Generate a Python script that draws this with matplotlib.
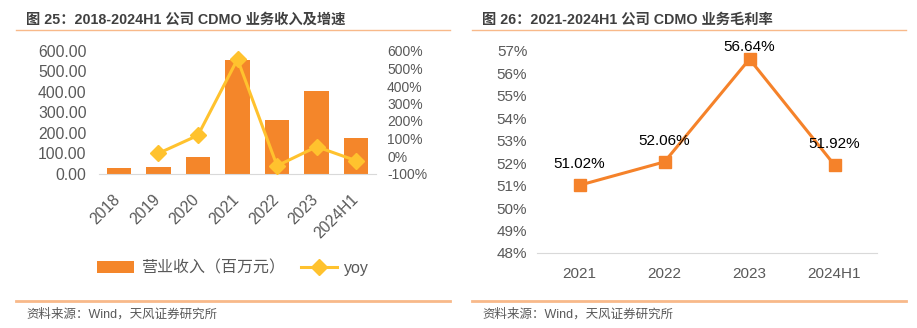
import matplotlib
matplotlib.use("Agg")
import matplotlib.pyplot as plt
from matplotlib.lines import Line2D
from matplotlib.transforms import ScaledTranslation

plt.rcParams['font.family'] = ['Liberation Sans', 'Noto Sans CJK SC', 'DejaVu Sans']

# left chart data
years = ['2018', '2019', '2020', '2021', '2022', '2023', '2024H1']
revenue = [29, 34, 82, 557, 261, 405, 172]
yoy_years = ['2019', '2020', '2021', '2022', '2023', '2024H1']
yoy = [15, 118, 553, -56, 53, -27]

# right chart data
gm_years = ['2021', '2022', '2023', '2024H1']
gross_margin = [51.02, 52.06, 56.64, 51.92]

bar_c = '#F4862A'
yoy_c = '#FFC22E'
line_c = '#F5822A'
tick_c = '#595959'
rule_c = '#F8B98A'

W, H = 917, 328
fig = plt.figure(figsize=(W / 100, H / 100), dpi=100)

def box(x0, y0, x1, y1):
    # pixel box (top-left origin) -> figure fraction
    return [x0 / W, 1 - y1 / H, (x1 - x0) / W, (y1 - y0) / H]

# headers and footers
fig.text(26 / W, 1 - 20 / H, '图 25：2018-2024H1 公司 CDMO 业务收入及增速', fontsize=10.3,
         fontweight='bold', color='#404040', va='center')
fig.text(482 / W, 1 - 20 / H, '图 26：2021-2024H1 公司 CDMO 业务毛利率', fontsize=10.3,
         fontweight='bold', color='#404040', va='center')
for x0, x1 in [(16, 450), (472, 906)]:
    fig.add_artist(Line2D([x0 / W, x1 / W], [1 - 30 / H] * 2, color=rule_c, lw=1))
    fig.add_artist(Line2D([x0 / W, x1 / W], [1 - 301 / H] * 2, color=rule_c, lw=2))
    fig.text((x0 + 10) / W, 1 - 314 / H, '资料来源：Wind，天风证券研究所', fontsize=9,
             color='#595959', va='center')

# left chart
ax = fig.add_axes(box(99, 51, 376, 173.5))
xs = list(range(len(years)))
bars = ax.bar(xs, revenue, width=0.62, color=bar_c, label='营业收入（百万元）', zorder=2)
ax.set_xlim(-0.5, len(years) - 0.5)
ax.set_ylim(0, 600)
ax.set_yticks(range(0, 601, 100))
ax.set_yticklabels([f'{v:.2f}' for v in range(0, 601, 100)])
ax.set_xticks(xs)
ax.set_xticklabels(years, rotation=45, ha='right', rotation_mode='anchor')
for s in ['top', 'right', 'left']:
    ax.spines[s].set_visible(False)
ax.spines['bottom'].set_color('#D9D9D9')
ax.tick_params(length=0, labelsize=11.3, colors=tick_c)
ax.tick_params(axis='y', pad=9)
ax.tick_params(axis='x', pad=13)
shift = ScaledTranslation(-6 / 100, 0, fig.dpi_scale_trans)
for lab in ax.get_xticklabels():
    lab.set_transform(lab.get_transform() + shift)

ax2 = ax.twinx()
yx = [years.index(y) for y in yoy_years]
ln, = ax2.plot(yx, yoy, color=yoy_c, lw=2.2, marker='D', ms=8, label='yoy', zorder=3)
ax2.set_ylim(-100, 600)
ax2.set_yticks(range(-100, 601, 100))
ax2.set_yticklabels([f'{v}%' for v in range(-100, 601, 100)])
for s in ['top', 'right', 'left', 'bottom']:
    ax2.spines[s].set_visible(False)
ax2.tick_params(length=0, labelsize=10, colors=tick_c, pad=8)

fig.legend(handles=[bars, ln], loc='center', bbox_to_anchor=(233 / W, 1 - 268 / H),
           ncol=2, frameon=False, fontsize=11.5, labelcolor=tick_c,
           handlelength=2.3, handleheight=0.7, columnspacing=1.0, handletextpad=0.4)

# right chart
bx = fig.add_axes(box(537, 51, 877, 253))
gx = list(range(len(gm_years)))
bx.plot(gx, gross_margin, color=line_c, lw=2.2, marker='s', ms=8, clip_on=False)
for x, v in zip(gx, gross_margin):
    off = 3.5 if v == max(gross_margin) else 10
    bx.annotate(f'{v:.2f}%', (x, v), xytext=(0, off), textcoords='offset points',
                ha='center', va='bottom', fontsize=11, color='black')
bx.set_xlim(-0.5, len(gm_years) - 0.5)
bx.set_ylim(48, 57)
bx.set_yticks(range(48, 58))
bx.set_yticklabels([f'{v}%' for v in range(48, 58)])
bx.set_xticks(gx)
bx.set_xticklabels(gm_years)
for s in ['top', 'right', 'left']:
    bx.spines[s].set_visible(False)
bx.spines['bottom'].set_color('#D9D9D9')
bx.tick_params(length=0, labelsize=11, colors=tick_c)
bx.tick_params(axis='x', pad=10)
bx.tick_params(axis='y', pad=7)

fig.savefig('out.png', dpi=100)
